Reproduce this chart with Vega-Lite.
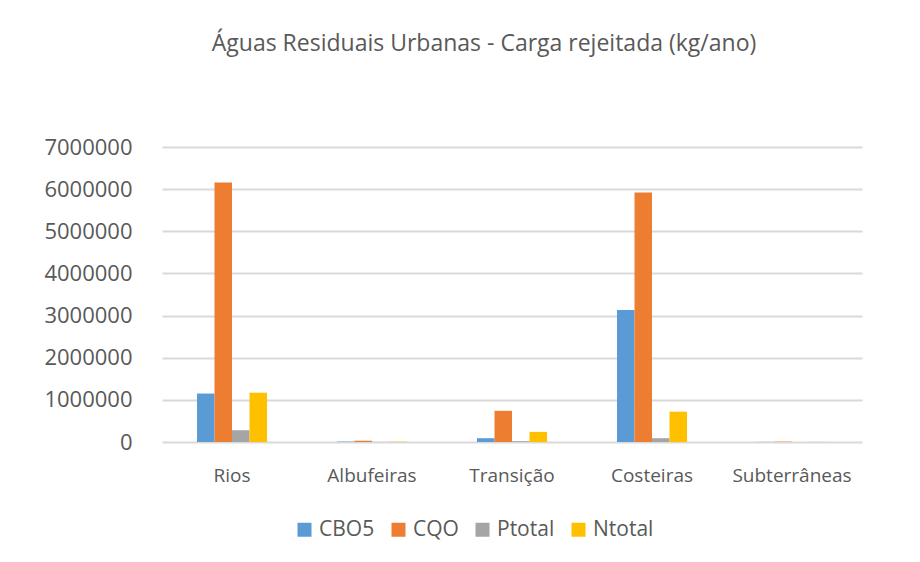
{
  "$schema": "https://vega.github.io/schema/vega-lite/v6.json",
  "width": 700,
  "height": 295,
  "padding": {"left": 43, "top": 33, "right": 20, "bottom": 10},
  "background": "white",
  "title": {
    "text": "Águas Residuais Urbanas - Carga rejeitada (kg/ano)",
    "font": "Open Sans",
    "fontSize": 23,
    "fontWeight": "normal",
    "color": "#595959",
    "anchor": "middle",
    "dx": -28,
    "offset": 80
  },
  "data": {
    "values": [
      {"cat": "Rios", "serie": "CBO5", "v": 1150000},
      {"cat": "Rios", "serie": "CQO", "v": 6160000},
      {"cat": "Rios", "serie": "Ptotal", "v": 280000},
      {"cat": "Rios", "serie": "Ntotal", "v": 1170000},
      {"cat": "Albufeiras", "serie": "CBO5", "v": 10000},
      {"cat": "Albufeiras", "serie": "CQO", "v": 30000},
      {"cat": "Albufeiras", "serie": "Ptotal", "v": 2000},
      {"cat": "Albufeiras", "serie": "Ntotal", "v": 8000},
      {"cat": "Transição", "serie": "CBO5", "v": 90000},
      {"cat": "Transição", "serie": "CQO", "v": 740000},
      {"cat": "Transição", "serie": "Ptotal", "v": 20000},
      {"cat": "Transição", "serie": "Ntotal", "v": 240000},
      {"cat": "Costeiras", "serie": "CBO5", "v": 3130000},
      {"cat": "Costeiras", "serie": "CQO", "v": 5920000},
      {"cat": "Costeiras", "serie": "Ptotal", "v": 90000},
      {"cat": "Costeiras", "serie": "Ntotal", "v": 720000},
      {"cat": "Subterrâneas", "serie": "CBO5", "v": 3000},
      {"cat": "Subterrâneas", "serie": "CQO", "v": 8000},
      {"cat": "Subterrâneas", "serie": "Ptotal", "v": 500},
      {"cat": "Subterrâneas", "serie": "Ntotal", "v": 2000}
    ]
  },
  "mark": {"type": "bar"},
  "encoding": {
    "x": {
      "field": "cat",
      "type": "nominal",
      "sort": ["Rios", "Albufeiras", "Transição", "Costeiras", "Subterrâneas"],
      "scale": {"paddingInner": 0.5, "paddingOuter": 0.25},
      "axis": {
        "title": null,
        "labelAngle": 0,
        "labelFont": "Open Sans",
        "labelFontSize": 19,
        "labelColor": "#595959",
        "labelPadding": 24,
        "ticks": false,
        "domain": false
      }
    },
    "xOffset": {
      "field": "serie",
      "type": "nominal",
      "sort": ["CBO5", "CQO", "Ptotal", "Ntotal"]
    },
    "y": {
      "field": "v",
      "type": "quantitative",
      "scale": {"domain": [0, 7000000]},
      "axis": {
        "title": null,
        "values": [0, 1000000, 2000000, 3000000, 4000000, 5000000, 6000000, 7000000],
        "format": "d",
        "labelFont": "Open Sans",
        "labelFontSize": 22,
        "labelColor": "#595959",
        "labelPadding": 30,
        "ticks": false,
        "domain": false,
        "gridColor": "#D9D9D9",
        "gridWidth": 2
      }
    },
    "color": {
      "field": "serie",
      "type": "nominal",
      "sort": ["CBO5", "CQO", "Ptotal", "Ntotal"],
      "scale": {
        "domain": ["CBO5", "CQO", "Ptotal", "Ntotal"],
        "range": ["#5B9BD5", "#ED7D31", "#A5A5A5", "#FFC000"]
      },
      "legend": {
        "title": null,
        "orient": "none",
        "legendX": 132,
        "legendY": 372,
        "direction": "horizontal",
        "symbolType": "square",
        "symbolSize": 196,
        "symbolStrokeWidth": 0,
        "labelFont": "Open Sans",
        "labelFontSize": 21,
        "labelColor": "#595959",
        "columnPadding": 13
      }
    }
  },
  "config": {"view": {"stroke": null}}
}
